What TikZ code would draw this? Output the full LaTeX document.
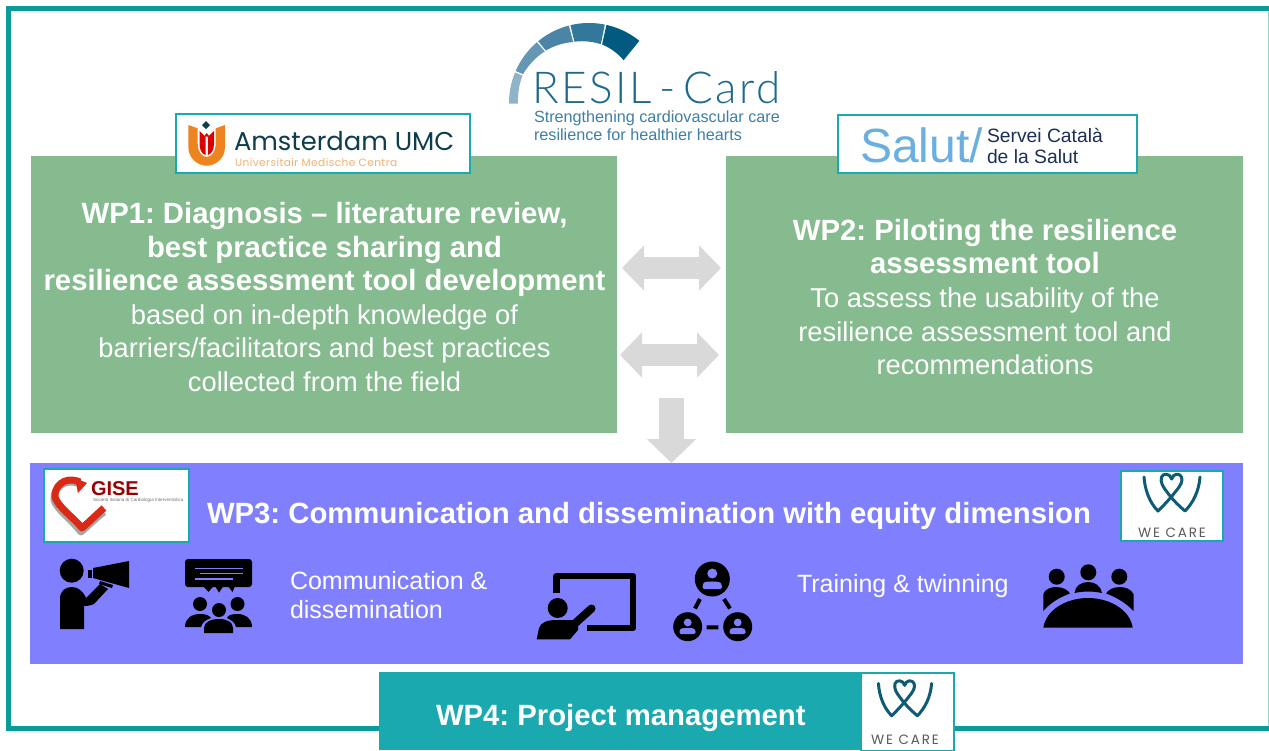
\documentclass[tikz,border=0pt]{standalone}
\usepackage{fontspec}
\setmainfont{Liberation Sans}
\newfontfamily\lightf{Lato Light}[LetterSpace=6]
\newfontfamily\popf{Poppins}
\newfontfamily\popt{Poppins}[LetterSpace=4]
\newfontfamily\popl{Poppins}[LetterSpace=14]
\usetikzlibrary{arrows.meta}
\AtBeginDocument{\frenchspacing}
\definecolor{wpgreen}{HTML}{85BB8F}
\definecolor{wppurple}{HTML}{8080FF}
\definecolor{wpteal}{HTML}{1AA9AE}
\definecolor{frameteal}{HTML}{0A9C9A}
\definecolor{arrowgrey}{HTML}{D9D9D9}
\definecolor{resilblue}{HTML}{1F6A8C}
\definecolor{tagblue}{HTML}{3F7FA3}
\definecolor{wcblue}{HTML}{0F5A75}
\definecolor{umcorange}{HTML}{EE8420}
\definecolor{umcdark}{HTML}{0F3D4C}
\definecolor{gisered}{HTML}{DA2A16}
\definecolor{salutblue}{HTML}{6BAEE0}
\definecolor{salutdark}{HTML}{1E2F55}
\definecolor{gaugeA}{HTML}{8FB4CA}
\definecolor{gaugeB}{HTML}{6597B5}
\definecolor{gaugeC}{HTML}{4A85A6}
\definecolor{gaugeD}{HTML}{31789A}
\definecolor{gaugeE}{HTML}{025A80}
\tikzset{
  wpbox/.style={anchor=north west,inner sep=0pt,outer sep=0pt,fill=#1},
  logobox/.style={anchor=north west,inner sep=0pt,outer sep=0pt,fill=white,draw=wpteal,line width=2pt},
  whitetxt/.style={text=white,align=center,inner sep=0pt,font=\fontsize{27.3}{33.6}\selectfont},
  free/.style={inner sep=0pt,outer sep=0pt,anchor=base west},
  blockarrow/.style={draw=arrowgrey,line width=22pt},
  twoway/.style={blockarrow,{Triangle[length=22pt,width=44pt]}-{Triangle[length=22pt,width=44pt]}},
  oneway/.style={draw=arrowgrey,line width=25pt,-{Triangle[length=24pt,width=48pt]}},
  ink/.style={fill=black,draw=none},
  wecarelogo/.pic={
    \draw[wcblue,line width=3pt,line cap=round,line join=round]
      (-28,-29) .. controls (-27,-15) and (-22,-3) .. (-14,5)
      .. controls (-9,0) and (-3,-6) .. (4,-15)
      .. controls (9,-21) and (11,-25) .. (9.5,-29)
      .. controls (8,-33) and (1,-33) .. (-0.3,-27)
      .. controls (-2,-33) and (-9,-33) .. (-10.5,-29)
      .. controls (-12,-24) and (-9,-19) .. (-5,-14)
      .. controls (0,-7) and (6,-1) .. (13,5)
      .. controls (21,-3) and (27,-15) .. (28,-29);
  }
}
\newcommand{\hd}[1]{{\bfseries\fontsize{29.3}{33.6}\selectfont #1}}
\newcommand{\gaugeseg}[5]{%
  \fill[#5] plot[domain=#1:#2,samples=12] ({589+80*cos(\x)},{103-80*sin(\x)})
    -- plot[domain=#2:#1,samples=12] ({589+(#3+(#4-#3)*(\x-#1)/(#2-#1))*cos(\x)},{103-(#3+(#4-#3)*(\x-#1)/(#2-#1))*sin(\x)}) -- cycle;}
\begin{document}
\begin{tikzpicture}[x=1pt,y=-1pt]
\useasboundingbox (0,0) rectangle (1269,750);
\fill[white] (0,0) rectangle (1269,750);
% outer frame
\draw[frameteal,line width=5pt] (1269,8.5) -- (8.5,8.5) -- (8.5,728.5) -- (1269,728.5);
\draw[frameteal!45,line width=1pt] (1268.5,11) -- (1268.5,726);

% RESIL-Card logo
\gaugeseg{180.5}{157.6}{71}{72}{gaugeA}
\gaugeseg{156.4}{130.6}{72}{68}{gaugeB}
\gaugeseg{129.4}{104.6}{68}{63}{gaugeC}
\gaugeseg{103.4}{78.6}{63}{60}{gaugeD}
\gaugeseg{77.4}{51}{60}{55}{gaugeE}
\node[free,text=resilblue,font=\lightf\fontsize{44}{44}\selectfont] (resil) at (532,103) {RESIL\,-\,Card};
\node[free,text=tagblue,font=\fontsize{16.2}{16}\selectfont] (tag1) at (534,122.5) {Strengthening cardiovascular care};
\node[free,text=tagblue,font=\fontsize{16.2}{16}\selectfont] (tag2) at (534,140) {resilience for healthier hearts};

% WP boxes
\node[wpbox=wpgreen,minimum width=586pt,minimum height=277pt] (wp1) at (31,156) {};
\node[wpbox=wpgreen,minimum width=517pt,minimum height=277pt] (wp2) at (726,156) {};
\node[wpbox=wppurple,minimum width=1213pt,minimum height=201pt] (wp3) at (30,463) {};
\node[wpbox=wpteal,minimum width=490pt,minimum height=78pt] (wp4) at (379,672) {};

\node[whitetxt] (wp1txt) at (324.5,297) {\hd{WP1: Diagnosis – literature review,}\\
 \hd{best practice sharing and}\\
 \hd{resilience assessment tool development}\\
 based on in-depth knowledge of\\
 barriers/facilitators and best practices\\
 collected from the field};
\node[whitetxt] (wp2txt) at (985,297) {\hd{WP2: Piloting the resilience}\\
 \hd{assessment tool}\\
 To assess the usability of the\\
 resilience assessment tool and\\
 recommendations};
\node[free,text=white,font=\bfseries\fontsize{29.3}{29}\selectfont] (wp3txt) at (207,523) {WP3: Communication and dissemination with equity dimension};
\node[free,text=white,align=left,anchor=north west,font=\fontsize{25}{29}\selectfont] (cd) at (290,571.5) {Communication \&\\dissemination};
\node[free,text=white,font=\fontsize{25}{25}\selectfont] (tt) at (797,592) {Training \& twinning};
\node[free,text=white,font=\bfseries\fontsize{29.3}{29}\selectfont] (wp4txt) at (436,725) {WP4: Project management};

% arrows
\draw[twoway] ([shift={(5,-26.5)}]wp1.east) -- ([shift={(-5,-26.5)}]wp2.west);
\draw[twoway] ([shift={(3,60.5)}]wp1.east) -- ([shift={(-7,60.5)}]wp2.west);
\coordinate (downstart) at (671.5,398);
\draw[oneway] (downstart) -- (downstart |- wp3.north);

% Amsterdam logo
\node[logobox,minimum width=294pt,minimum height=59pt] (umc) at (176,114) {};
\fill[umcorange] (188.3,125) -- (197.7,128.3) -- (197.7,143) .. controls (197.7,152) and (202,157) .. (206.7,157)
  .. controls (211.4,157) and (215.7,152) .. (215.7,143) -- (215.7,128.3) -- (225,125) -- (225,147)
  .. controls (225,158) and (216,165.7) .. (206.7,165.7) .. controls (197.4,165.7) and (188.3,158) .. (188.3,147) -- cycle;
\fill[red!85!black] (199.5,131) -- (205.6,137) -- (205.6,155) .. controls (202,154) and (199.5,150) .. (199.5,144) -- cycle;
\fill[red!85!black] (214,131) -- (207.8,137) -- (207.8,155) .. controls (211.4,154) and (214,150) .. (214,144) -- cycle;
\fill[red!85!black] (206.7,133) -- (204,136.5) -- (209.4,136.5) -- cycle;
\fill[umcdark] (206,121) -- (210,125) -- (206,129) -- (202,125) -- cycle;
\node[free,text=umcdark,font=\popf\fontsize{25.8}{25}\selectfont] (umc1) at (234,150) {Amsterdam UMC};
\node[free,text=umcorange!65,font=\popt\fontsize{10.6}{11}\selectfont] (umc2) at (235,166) {Universitair Medische Centra};

% Salut logo
\node[logobox,minimum width=299pt,minimum height=58pt] (salut) at (838,115) {};
\node[free,text=salutblue,font=\fontsize{48}{48}\selectfont] (sal1) at (860,162) {Salut/};
\node[free,text=salutdark,font=\fontsize{19.3}{19}\selectfont] (sal2) at (987,142) {Servei Català};
\node[free,text=salutdark,font=\fontsize{19.3}{19}\selectfont] (sal3) at (987,163) {de la Salut};

% GISE logo
\node[logobox,minimum width=145pt,minimum height=73pt] (gise) at (44,469) {};
\draw[black!35,line width=7pt,line join=round] (80,484) .. controls (63,477) and (53,490) .. (54,500) .. controls (57,510) and (72,520) .. (81,532) .. controls (88,526) and (96,518) .. (104,512);
\draw[gisered,line width=7pt,line join=round] (80,482) .. controls (63,475) and (54,488) .. (55,497) .. controls (58,507) and (73,517) .. (82,528) .. controls (89,522) and (96,515) .. (104,508);
\fill[gisered] (75,478) -- (87,483) -- (78,493) -- cycle;
\node[free,text=red!60!black,font=\bfseries\fontsize{20}{20}\selectfont] (gise1) at (91,495) {GISE};
\node[free,text=black!55,font=\fontsize{4.6}{5}\selectfont] (gise2) at (93,501.7) {Società Italiana di Cardiologia Interventistica};

% WE CARE logos
\node[logobox,minimum width=102pt,minimum height=70pt] (wc1) at (1121,471) {};
\pic at (1172,506) {wecarelogo};
\node[text=black!65,inner sep=0pt,font=\popl\fontsize{13.5}{13}\selectfont] (wc1t) at (1172,533) {WE CARE};
\node[logobox,minimum width=93pt,minimum height=78pt] (wc2) at (861,673) {};
\pic[scale=.95] at (905,711) {wecarelogo};
\node[text=black!65,inner sep=0pt,font=\popl\fontsize{13.5}{13}\selectfont] (wc2t) at (905,740) {WE CARE};

% megaphone person
\fill[ink] (71.7,570.7) circle (12);
\fill[ink] (60,629) -- (60,599) .. controls (60,591) and (65,587) .. (72,587) .. controls (78,587) and (83,591) .. (86,598)
  -- (100,584) -- (108,589) -- (94,604) .. controls (92,605) and (88,606) .. (84,606) -- (84,629) -- cycle;
\fill[ink] (93,568) -- (129,561) -- (129,588) -- (93,578) -- cycle;
\fill[ink] (88,570) rectangle (91.5,578);
\fill[ink] (100,581) -- (113,585) -- (112,588) -- (99,584) -- cycle;

% audience
\fill[ink,rounded corners=3pt] (185,559) rectangle (252,587);
\fill[ink] (203,586) -- (208.5,592) -- (213.5,586) -- (215,586) -- (219,592.5) -- (223.5,586) -- (228,586) -- (232.5,592) -- (235,586) -- cycle;
\draw[wppurple,line width=1.2pt] (195,568.5) -- (242.5,568.5) (200,573.5) -- (242.5,573.5) (195,579) -- (233,579);
\fill[ink] (200,604) circle (7) (237.5,604) circle (7) (219,610) circle (7);
\fill[ink] (185,627) .. controls (185,618) and (192,614) .. (200,614) .. controls (205,614) and (209,615) .. (211,618) .. controls (205,620) and (202,623) .. (201,627) -- cycle;
\fill[ink] (252,627) .. controls (252,618) and (245,614) .. (237.5,614) .. controls (232,614) and (228,615) .. (227,618) .. controls (232,620) and (235,623) .. (236,627) -- cycle;
\fill[ink] (204,633) -- (204,628) .. controls (204,622) and (211,619) .. (219,619) .. controls (227,619) and (233,622) .. (233,628) -- (233,633) -- cycle;

% teacher
\draw[black,line width=6.5pt,line join=round] (556.7,593) -- (556.7,576) -- (633,576) -- (633,628) -- (587,628);
\fill[ink] (557.7,608) circle (10);
\draw[black,line width=8pt,line cap=round] (570,628) -- (591.5,608.5);
\fill[ink] (536.7,639.3) -- (539,628) .. controls (541,622) and (548,620) .. (556,620) -- (566,620) -- (578,620) -- (578,630) -- (570,639.3) -- cycle;

% network
\fill[ink] (712.3,579) circle (17.5) (687.7,626.7) circle (14.5) (737.7,626.7) circle (14.5);
\draw[black,line width=4pt] (700,599) -- (695,608.5) (724,599) -- (730,608.5) (706.7,627.3) -- (718.3,627.3);
\fill[wppurple] (712.3,573.5) circle (5) (687.7,622.5) circle (3.9) (737.7,622.5) circle (3.9);
\fill[wppurple,rounded corners=2pt] (702.5,589) -- (702.5,584.5) .. controls (705,581) and (719,581) .. (722,584.5) -- (722,589) -- cycle;
\fill[wppurple,rounded corners=1.5pt] (679.5,634) -- (679.5,630) .. controls (682,627.5) and (693,627.5) .. (695.5,630) -- (695.5,634) -- cycle;
\fill[wppurple,rounded corners=1.5pt] (729.5,634) -- (729.5,630) .. controls (732,627.5) and (743,627.5) .. (745.5,630) -- (745.5,634) -- cycle;

% meeting
\fill[ink] (1056.7,576.7) circle (8) (1088.3,572.3) circle (8) (1119.3,576.7) circle (8);
\fill[ink] (1043.3,611) -- (1043.3,594) .. controls (1045,589) and (1051,587) .. (1056,587) .. controls (1063,587) and (1068,590) .. (1070,593.5) .. controls (1060,597) and (1050,603) .. (1043.3,611) -- cycle;
\fill[ink] (1133.5,611) -- (1133.5,594) .. controls (1131,589) and (1125,587) .. (1120,587) .. controls (1113,587) and (1108,590) .. (1106,593.5) .. controls (1116,597) and (1126,603) .. (1133.5,611) -- cycle;
\fill[ink] (1074.5,593) .. controls (1075,586) and (1081,582) .. (1088,582) .. controls (1095,582) and (1101,586) .. (1102,593) .. controls (1092,591) and (1084,591) .. (1074.5,593) -- cycle;
\fill[ink] (1043.3,627.7) .. controls (1046,610) and (1066,598) .. (1088,598) .. controls (1110,598) and (1130,610) .. (1132.7,627.7) -- cycle;
\end{tikzpicture}
\end{document}
